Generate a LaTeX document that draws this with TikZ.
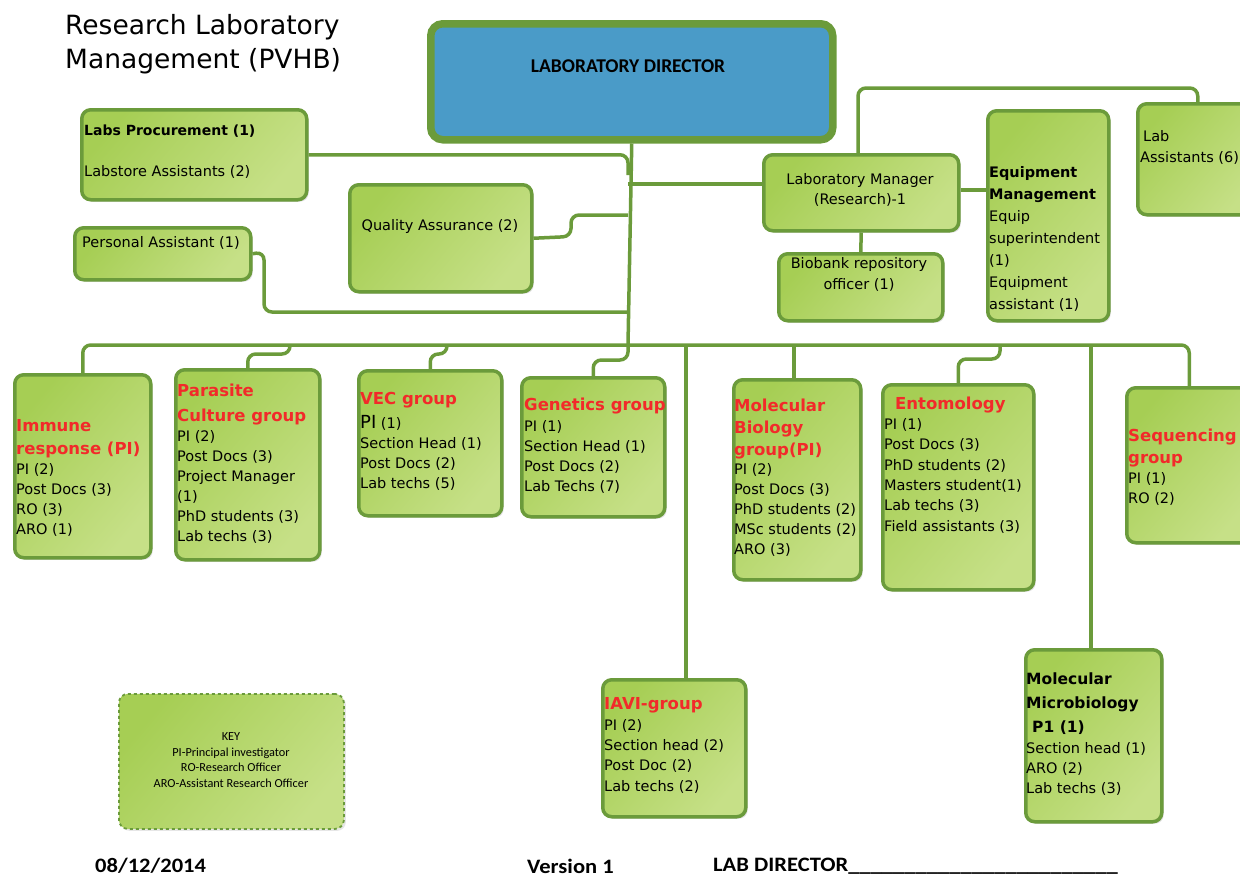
\documentclass[tikz,border=0pt]{standalone}
\usepackage{fontspec}
\setmainfont{DejaVu Sans}
\newfontfamily\carlito{Carlito}
\newfontfamily\carlitow[FakeStretch=1.1]{Carlito}
\usetikzlibrary{shadows}
\definecolor{gA}{HTML}{A6CE54}
\definecolor{gB}{HTML}{C6E087}
\definecolor{gline}{HTML}{6B9B3B}
\definecolor{dirblue}{HTML}{4A9BC8}
\definecolor{tred}{HTML}{F22A2A}
\tikzset{
  gbox/.style={draw=gline, line width=3.5pt, rounded corners=9pt, left color=gA, right color=gB, shading angle=50,
    drop shadow={opacity=0.25, shadow xshift=2pt, shadow yshift=-2pt}, anchor=north west, inner sep=0pt},
  keybox/.style={draw=gline, line width=1.8pt, dashed, rounded corners=9pt, left color=gA, right color=gB, shading angle=50,
    drop shadow={opacity=0.2, shadow xshift=2pt, shadow yshift=-2pt}, anchor=north west, inner sep=0pt},
  dirbox/.style={draw=gline, line width=7.5pt, rounded corners=12pt, fill=dirblue, anchor=north west, inner sep=0pt,
    drop shadow={opacity=0.25, shadow xshift=2pt, shadow yshift=-2pt}},
  conn/.style={draw=gline, line width=3.5pt, rounded corners=8pt},
  tx/.style={anchor=north west, inner sep=0pt, align=left, font=\fontsize{14.5}{20}\selectfont},
  ttl/.style={anchor=north west, inner sep=0pt, align=left, text=tred, font=\bfseries\fontsize{16.5}{23}\selectfont},
  ctx/.style={anchor=center, inner sep=0pt, align=center, font=\fontsize{14.5}{20}\selectfont},
  foot/.style={anchor=west, inner sep=0pt, font=\carlitow\bfseries\fontsize{20.5}{24}\selectfont},
}
\begin{document}
\begin{tikzpicture}[x=1pt,y=-1pt]
\useasboundingbox (0,0) rectangle (1240,878);
\clip (0,0) rectangle (1240,878);
% title
\node[anchor=north west, inner sep=0pt, align=left, font=\fontsize{26.5}{34}\selectfont] (title) at (65,14) {Research Laboratory\\Management (PVHB)};
% boxes
\node[dirbox, minimum width=402, minimum height=116] (dir) at (427,20) {};
\node[gbox, minimum width=225, minimum height=90] (lp) at (80,108) {};
\node[gbox, minimum width=176, minimum height=52] (pa) at (73,226) {};
\node[gbox, minimum width=182, minimum height=107] (qa) at (348,183) {};
\node[gbox, minimum width=195, minimum height=76] (lm) at (762,153) {};
\node[gbox, minimum width=164, minimum height=67] (bb) at (777,252) {};
\node[gbox, minimum width=121, minimum height=210] (eq) at (986,109) {};
\node[gbox, minimum width=120, minimum height=111] (la) at (1136,102) {};
\node[gbox, minimum width=136, minimum height=183] (imm) at (13,373) {};
\node[gbox, minimum width=144, minimum height=190] (par) at (174,368) {};
\node[gbox, minimum width=143, minimum height=145] (vec) at (357,369) {};
\node[gbox, minimum width=143, minimum height=139] (gen) at (520,376) {};
\node[gbox, minimum width=127, minimum height=200] (mb) at (732,378) {};
\node[gbox, minimum width=151, minimum height=205] (ent) at (881,383) {};
\node[gbox, minimum width=125, minimum height=155] (seq) at (1125,386) {};
\node[gbox, minimum width=143, minimum height=137] (iavi) at (601,678) {};
\node[gbox, minimum width=136, minimum height=172] (mm) at (1024,648) {};
\node[keybox, minimum width=225, minimum height=135] (key) at (118,693) {};
% bus coordinates
\coordinate (t1) at (628,175);
\coordinate (t2) at (628,184);
\coordinate (t3) at (628,215);
\coordinate (t4) at (628,312);
\coordinate (bus) at (628,345);
\coordinate (bpar) at (290,345);
\coordinate (bvec) at (447,345);
\coordinate (biavi) at (686,345);
\coordinate (bmb) at (794,345);
\coordinate (bent) at (1000,345);
\coordinate (bmm) at (1091,345);
\coordinate (lmtop) at (858,153);
% connectors
\draw[conn] (dir.south) -- (bus);
\draw[conn] (lp.east) -| (t1);
\draw[conn] (t2) -- (t2 -| lm.west);
\draw[conn] (qa.east) -- (571,236.5) -- (571,215) -- (t3);
\draw[conn] (pa.east) -- (264,252) -- (264,312) -- (t4);
\draw[conn] (imm.north) -- (imm.north |- bus) -- (seq.north |- bus) -- (seq.north);
\draw[conn] (bpar) -- (290,354) -| (par.north);
\draw[conn] (bvec) -- (447,354) -| (vec.north);
\draw[conn] (bus) -- (628,360) -| (gen.north);
\draw[conn] (biavi) -- (biavi |- iavi.north);
\draw[conn] (bmb) -- (bmb |- mb.north);
\draw[conn] (bent) -- (1000,359) -| (ent.north);
\draw[conn] (bmm) -- (bmm |- mm.north);
\draw[conn] (lmtop) -- (858,88) -| (la.north);
\draw[conn] (lm.east |- 0,190) -- (eq.west |- 0,190);
\draw[conn] (lm.south) -- (bb.north);
% director text
\node[inner sep=0pt, font=\carlito\bfseries\fontsize{19.5}{22}\selectfont] (dirt) at (628,66) {LABORATORY DIRECTOR};
% top texts
\node[tx, font=\bfseries\fontsize{14}{20}\selectfont] (lpt1) at (84,125) {Labs Procurement (1)};
\node[tx] (lpt2) at (84,165) {Labstore Assistants (2)};
\node[tx] (pat) at (82,236) {Personal Assistant (1)};
\node[ctx] (qat) at (440,226) {Quality Assurance (2)};
\node[ctx] (lmt) at (860,190) {Laboratory Manager\\(Research)-1};
\node[ctx, font=\fontsize{14.5}{21}\selectfont] (bbt) at (859,274.5) {Biobank repository\\officer (1)};
\node[tx, font=\fontsize{14.5}{22}\selectfont] (eqt) at (989,166) {\textbf{Equipment}\\\textbf{Management}\\Equip\\superintendent\\(1)\\Equipment\\assistant (1)};
\node[tx, font=\fontsize{14.5}{21}\selectfont] (lat) at (1140,130) {\hspace{3pt}Lab\\Assistants (6)};
% group texts
\node[ttl] (immt) at (16,419) {Immune\\response (PI)};
\node[tx] (immb) at (16,463) {PI (2)\\Post Docs (3)\\RO (3)\\ARO (1)};
\node[ttl, font=\bfseries\fontsize{16.5}{25}\selectfont] (part) at (177,384) {Parasite\\Culture group};
\node[tx] (parb) at (177,430) {PI (2)\\Post Docs (3)\\Project Manager\\(1)\\PhD students (3)\\Lab techs (3)};
\node[ttl] (vect) at (360,392) {VEC group};
\node[tx] (vecb) at (360,415) {{\fontsize{18}{20}\selectfont PI} (1)\\Section Head (1)\\Post Docs (2)\\Lab techs (5)};
\node[ttl] (gent) at (524,398) {Genetics group};
\node[tx] (genb) at (524,420) {PI (1)\\Section Head (1)\\Post Docs (2)\\Lab Techs (7)};
\node[ttl, font=\bfseries\fontsize{16.5}{22}\selectfont] (mbt) at (734,399) {Molecular\\Biology\\group(PI)};
\node[tx] (mbb) at (734,463) {PI (2)\\Post Docs (3)\\PhD students (2)\\MSc students (2)\\ARO (3)};
\node[ttl] (entt) at (895,397) {Entomology};
\node[tx, font=\fontsize{14.5}{20.4}\selectfont] (entb) at (884,418) {PI (1)\\Post Docs (3)\\PhD students (2)\\Masters student(1)\\Lab techs (3)\\Field assistants (3)};
\node[ttl, font=\bfseries\fontsize{16.5}{22}\selectfont] (seqt) at (1128,429) {Sequencing\\group};
\node[tx] (seqb) at (1128,472) {PI (1)\\RO (2)};
\node[ttl] (iavit) at (604,697) {IAVI-group};
\node[tx, font=\fontsize{14.5}{20.3}\selectfont] (iavib) at (604,719) {PI (2)\\Section head (2)\\Post Doc (2)\\Lab techs (2)};
\node[ttl, text=black, font=\bfseries\fontsize{15.5}{24}\selectfont] (mmt) at (1026,673) {Molecular\\Microbiology\\\hspace{6pt}P1 (1)};
\node[tx] (mmb) at (1026,742) {Section head (1)\\ARO (2)\\Lab techs (3)};
% key
\node[inner sep=0pt, align=center, font=\carlito\fontsize{12.3}{15.7}\selectfont] (keyt) at (231,760) {KEY\\PI-Principal investigator\\RO-Research Officer\\ARO-Assistant Research Officer};
% footer
\node[foot] (date) at (95,866) {08/12/2014};
\node[foot] (ver) at (527,866) {Version 1};
\node[foot] (sign) at (713,866) {LAB DIRECTOR\_\_\_\_\_\_\_\_\_\_\_\_\_\_\_\_\_\_\_\_\_\_\_\_};
\end{tikzpicture}
\end{document}
